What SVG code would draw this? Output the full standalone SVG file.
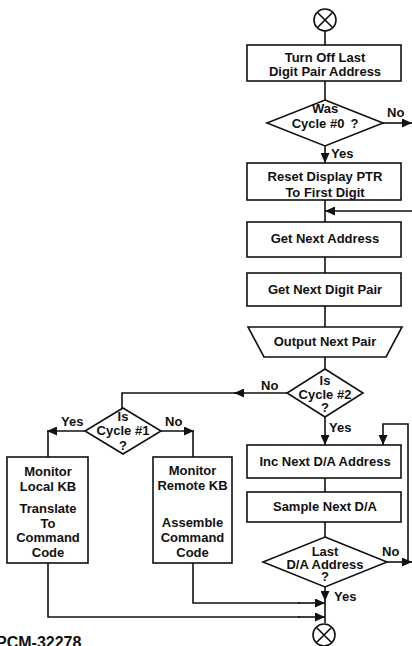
<svg xmlns="http://www.w3.org/2000/svg" width="412" height="646" viewBox="0 0 412 646">
  <defs>
    <marker id="arrow" markerUnits="userSpaceOnUse" markerWidth="10" markerHeight="9" refX="10" refY="4.5" orient="auto">
      <path d="M0,0 L10,4.5 L0,9 z" fill="#111"/>
    </marker>
    <style>
      .shape { fill: #fff; stroke: #111; stroke-width: 1.6; }
      .wire { fill: none; stroke: #111; stroke-width: 1.6; }
      .arr { marker-end: url(#arrow); }
      text { font-family: "Liberation Sans", Arial, Helvetica, sans-serif; font-weight: bold; font-size: 13px; fill: #111; }
      .c { text-anchor: middle; }
      .tag { font-size: 16px; }
    </style>
  </defs>
  <rect width="412" height="646" fill="#fff"/>

  <!-- connectors -->
  <g id="connectors">
    <line class="wire" x1="325" y1="31" x2="325" y2="45"/>
    <line class="wire" x1="325" y1="81" x2="325" y2="100"/>
    <line class="wire arr" x1="383" y1="123" x2="412" y2="123"/>
    <line class="wire arr" x1="325" y1="146" x2="325" y2="163"/>
    <line class="wire" x1="325" y1="200" x2="325" y2="222"/>
    <line class="wire arr" x1="412" y1="211" x2="325" y2="211"/>
    <line class="wire" x1="325" y1="257" x2="325" y2="273"/>
    <line class="wire" x1="325" y1="306" x2="325" y2="327"/>
    <line class="wire" x1="325" y1="357" x2="325" y2="369"/>
    <!-- Cycle #2: No branch to the left -->
    <line class="wire arr" x1="287" y1="393" x2="234" y2="393"/>
    <polyline class="wire" points="236,393 122,393 122,408"/>
    <!-- Cycle #1 branches -->
    <line class="wire arr" x1="85" y1="431" x2="47" y2="431"/>
    <line class="wire" x1="48" y1="431" x2="48" y2="457"/>
    <line class="wire arr" x1="161" y1="431" x2="194" y2="431"/>
    <line class="wire" x1="193" y1="431" x2="193" y2="457"/>
    <!-- Cycle #2: Yes branch -->
    <line class="wire arr" x1="325" y1="417" x2="325" y2="445"/>
    <line class="wire" x1="325" y1="478" x2="325" y2="492"/>
    <line class="wire" x1="325" y1="522" x2="325" y2="537"/>
    <!-- Last D/A: No loop -->
    <line class="wire arr" x1="387" y1="562" x2="412" y2="562"/>
    <polyline class="wire arr" points="408,562 408,424 383,424 383,445"/>
    <!-- Last D/A: Yes -->
    <line class="wire arr" x1="325" y1="587" x2="325" y2="601"/>
    <line class="wire" x1="325" y1="600" x2="325" y2="623"/>
    <!-- keyboard branches rejoin -->
    <polyline class="wire" points="193,563 193,603 300,603"/>
    <line class="wire arr" x1="298" y1="603" x2="325" y2="603"/>
    <polyline class="wire" points="48,563 48,617 300,617"/>
    <line class="wire arr" x1="298" y1="617" x2="325" y2="617"/>
  </g>

  <!-- entry connector -->
  <g id="entry">
    <circle class="shape" cx="325" cy="20" r="11"/>
    <path class="wire" d="M317.5,12.5 L332.5,27.5 M332.5,12.5 L317.5,27.5"/>
  </g>

  <g id="turn-off">
    <rect class="shape" x="247" y="45" width="154" height="36"/>
    <text class="c" x="325" y="62">Turn Off Last</text>
    <text class="c" x="325" y="76">Digit Pair Address</text>
  </g>

  <g id="was-cycle-0">
    <polygon class="shape" points="325,100 383,123 325,146 267,123"/>
    <text class="c" x="325" y="113">Was</text>
    <text class="c" x="325" y="128">Cycle #0<tspan dx="6">?</tspan></text>
    <text x="387" y="117">No</text>
    <text x="331" y="158">Yes</text>
  </g>

  <g id="reset-ptr">
    <rect class="shape" x="247" y="163" width="154" height="37"/>
    <text class="c" x="325" y="181">Reset Display PTR</text>
    <text class="c" x="325" y="197">To First Digit</text>
  </g>

  <g id="next-address">
    <rect class="shape" x="247" y="222" width="154" height="35"/>
    <text class="c" x="325" y="243">Get Next Address</text>
  </g>

  <g id="next-digit-pair">
    <rect class="shape" x="247" y="273" width="154" height="33"/>
    <text class="c" x="325" y="294">Get Next Digit Pair</text>
  </g>

  <g id="output-pair">
    <polygon class="shape" points="248,327 402,327 386,357 264,357"/>
    <text class="c" x="325" y="346">Output Next Pair</text>
  </g>

  <g id="is-cycle-2">
    <polygon class="shape" points="325,369 363,393 325,417 287,393"/>
    <text class="c" x="325" y="385">Is</text>
    <text class="c" x="325" y="399">Cycle #2</text>
    <text class="c" x="325" y="412">?</text>
    <text x="261" y="390">No</text>
    <text x="329" y="432">Yes</text>
  </g>

  <g id="is-cycle-1">
    <polygon class="shape" points="123,408 161,431 123,454 85,431"/>
    <text class="c" x="123" y="421">Is</text>
    <text class="c" x="123" y="435">Cycle #1</text>
    <text class="c" x="123" y="450">?</text>
    <text x="61" y="426">Yes</text>
    <text x="165" y="426">No</text>
  </g>

  <g id="local-kb">
    <rect class="shape" x="7" y="457" width="81" height="106"/>
    <text class="c" x="48" y="476">Monitor</text>
    <text class="c" x="48" y="491">Local KB</text>
    <text class="c" x="48" y="513">Translate</text>
    <text class="c" x="48" y="528">To</text>
    <text class="c" x="48" y="542">Command</text>
    <text class="c" x="48" y="557">Code</text>
  </g>

  <g id="remote-kb">
    <rect class="shape" x="153" y="457" width="79" height="106"/>
    <text class="c" x="192.5" y="475">Monitor</text>
    <text class="c" x="192.5" y="490">Remote KB</text>
    <text class="c" x="192.5" y="527">Assemble</text>
    <text class="c" x="192.5" y="542">Command</text>
    <text class="c" x="192.5" y="557">Code</text>
  </g>

  <g id="inc-da">
    <rect class="shape" x="247" y="445" width="154" height="33"/>
    <text class="c" x="325" y="466">Inc Next D/A Address</text>
  </g>

  <g id="sample-da">
    <rect class="shape" x="247" y="492" width="154" height="30"/>
    <text class="c" x="325" y="511">Sample Next D/A</text>
  </g>

  <g id="last-da">
    <polygon class="shape" points="325,537 387,562 325,587 263,562"/>
    <text class="c" x="325" y="556">Last</text>
    <text class="c" x="325" y="569">D/A Address</text>
    <text class="c" x="325" y="581">?</text>
    <text x="382" y="556">No</text>
    <text x="334" y="601">Yes</text>
  </g>

  <!-- exit connector -->
  <g id="exit">
    <circle class="shape" cx="324" cy="635" r="11"/>
    <path class="wire" d="M316.5,627.5 L331.5,642.5 M331.5,627.5 L316.5,642.5"/>
  </g>

  <text class="tag" x="-4" y="648">PCM-32278</text>
</svg>
